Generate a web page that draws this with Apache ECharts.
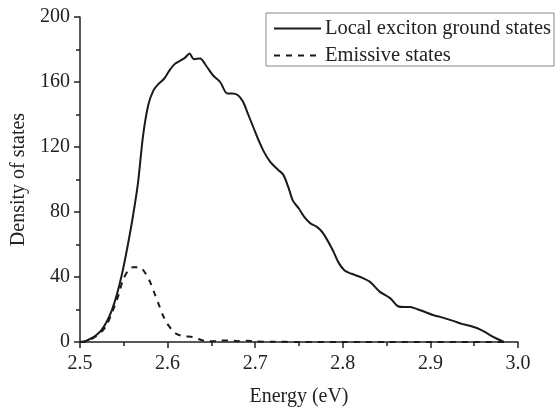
<!DOCTYPE html>
<html><head><meta charset="utf-8">
<script src="https://cdn.jsdelivr.net/npm/echarts@6/dist/echarts.min.js"></script>
<style>html,body{margin:0;padding:0;background:#fff}#c{width:555px;height:409px}</style>
</head><body><div id="c"></div>
<script>
const seriesNames = ["Local exciton ground states", "Emissive states"];
const xTicks = [2.5, 2.6, 2.7, 2.8, 2.9, 3.0];
const yTicks = [0, 40, 80, 120, 160, 200];
const groundE = [2.500,2.506,2.512,2.518,2.524,2.530,2.536,2.542,2.548,2.554,2.560,2.566,2.572,2.578,2.584,2.590,2.596,2.602,2.608,2.614,2.620,2.625,2.630,2.637,2.644,2.652,2.660,2.668,2.674,2.680,2.686,2.692,2.698,2.704,2.710,2.717,2.726,2.732,2.738,2.743,2.750,2.756,2.763,2.770,2.776,2.782,2.789,2.795,2.802,2.810,2.820,2.831,2.842,2.854,2.863,2.870,2.877,2.886,2.894,2.903,2.914,2.926,2.937,2.945,2.953,2.961,2.968,2.976,2.984];
const groundV = [0,0.5,2,4,7,12,19,29,42,58,76,97,127,146,155,159,162,167,171,173,175,177.5,174,174.5,170,164,160,153,153,152,148,140,132,124,117,111,106,103,95,87,82,77,73,71,68,63,56,49,44,42,40,37,31,27,22,21.5,21.5,20,18.5,16.6,15,13,11,10,8.6,6.5,4.3,2,0];
const emisE = [2.500,2.506,2.512,2.518,2.524,2.530,2.538,2.544,2.549,2.555,2.560,2.565,2.570,2.575,2.580,2.585,2.590,2.595,2.600,2.605,2.610,2.615,2.620,2.629,2.637,2.645,2.652,2.660,2.670,2.680,2.690,2.700,2.720,2.750,2.800,2.850,2.900,2.950,2.984];
const emisV = [0,0.3,1.5,3.5,6,10,20,29,38,44,46,46,45.5,42,37,30,23,16,11,7.5,5,4,3.5,3,1.5,0.5,0.5,1,1,0.5,0.8,0.3,0.2,0,0,0,0,0,0];

const font = '"Liberation Serif", "Times New Roman", serif';
const chart = echarts.init(document.getElementById('c'), null, {renderer: 'canvas'});
const pair = (xs, ys) => xs.map((x, i) => [x, ys[i]]);
chart.setOption({
  animation: false,
  backgroundColor: '#fff',
  grid: {left: 80, right: 37, top: 17, bottom: 67, outerBoundsMode: 'none', containLabel: false},
  legend: {
    orient: 'vertical', right: 1, top: 13,
    itemWidth: 47, itemHeight: 20, itemGap: 6,
    padding: [5, 3, 0, 7],
    borderColor: '#888', borderWidth: 1,
    itemStyle: {opacity: 0},
    textStyle: {fontFamily: font, fontSize: 20.5, color: '#222', padding: [0,0,0,-1]},
    data: seriesNames
  },
  xAxis: {
    type: 'value', min: 2.5, max: 3.0, interval: 0.1,
    name: 'Energy (eV)', nameLocation: 'middle', nameGap: 45,
    nameTextStyle: {fontFamily: font, fontSize: 20, color: '#222'},
    axisLine: {lineStyle: {color: '#222', width: 1.5}},
    axisTick: {inside: false, length: 6, lineStyle: {color: '#222', width: 1.5}},
    minorTick: {show: true, splitNumber: 2, length: 4, lineStyle: {color: '#222', width: 1.5}},
    axisLabel: {fontFamily: font, fontSize: 20, color: '#222', margin: 12,
      formatter: v => xTicks.some(t => Math.abs(t - v) < 1e-6) ? v.toFixed(1) : ''},
    splitLine: {show: false}
  },
  yAxis: {
    type: 'value', min: 0, max: 200, interval: 40,
    name: 'Density of states', nameLocation: 'middle', nameGap: 45,
    nameTextStyle: {fontFamily: font, fontSize: 20, color: '#222'},
    axisLine: {show: true, lineStyle: {color: '#222', width: 1.5}},
    axisTick: {show: true, length: 6, lineStyle: {color: '#222', width: 1.5}},
    minorTick: {show: true, splitNumber: 2, length: 4, lineStyle: {color: '#222', width: 1.5}},
    axisLabel: {fontFamily: font, fontSize: 20, color: '#222', margin: 10,
      formatter: v => yTicks.includes(v) ? String(v) : ''},
    splitLine: {show: false}
  },
  series: [
    {name: seriesNames[0], type: 'line', data: pair(groundE, groundV), symbol: 'none', smooth: 0.3,
     lineStyle: {color: '#1a1a1a', width: 2, type: 'solid'}, itemStyle: {color: '#1a1a1a'}},
    {name: seriesNames[1], type: 'line', data: pair(emisE, emisV), symbol: 'none', smooth: 0.3,
     lineStyle: {color: '#1a1a1a', width: 2, type: [6, 6]}, itemStyle: {color: '#1a1a1a'}}
  ]
});
</script></body></html>
